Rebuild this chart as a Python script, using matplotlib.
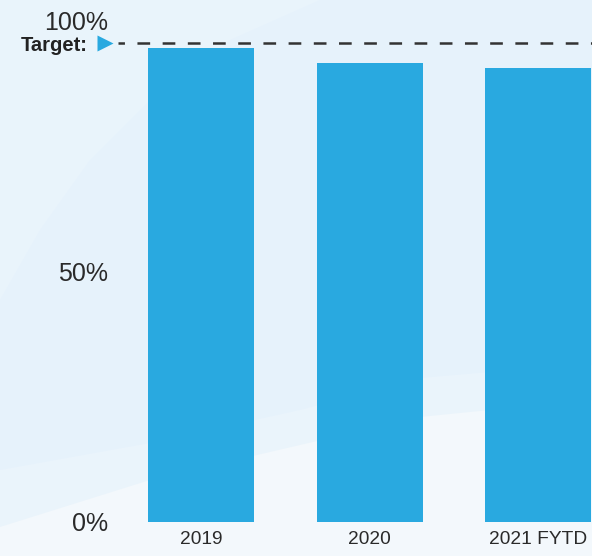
import matplotlib
matplotlib.use("Agg")
import matplotlib.pyplot as plt
import numpy as np

categories = ["2019", "2020", "2021 FYTD"]
values = [94.5, 91.5, 90.5]
target = 95.5
ytick_values = [0, 50, 100]
ytick_labels = ["0%", "50%", "100%"]

plt.rcParams['font.family'] = ['Liberation Sans', 'DejaVu Sans']
plt.rcParams['lines.scale_dashes'] = False

W, H = 592, 556
fig = plt.figure(figsize=(W / 100, H / 100), dpi=100)
fig.patch.set_facecolor('#E6F2FB')

# decorative background
bg = fig.add_axes([0, 0, 1, 1], zorder=-10)
bg.set_xlim(0, W)
bg.set_ylim(H, 0)
bg.axis('off')
xs = np.linspace(0, W, 50)
lx = np.array([0, 40, 90, 150, 230, 320, 0])
ly = np.array([300, 230, 160, 100, 40, 0, 0])
bg.fill(lx, ly, color='#E9F4FB', lw=0)
c2 = np.interp(xs, [0, 150, 300, 420, 490, 592], [470, 443, 410, 378, 372, 365])
bg.fill_between(xs, c2, H, color='#EAF4FB', lw=0)
c1 = np.interp(xs, [0, 150, 300, 420, 490, 592], [527, 480, 445, 417, 410, 400])
bg.fill_between(xs, c1, H, color='#F3F8FC', lw=0)

# main axes
y0_px, y100_px = 521.7, 20.5
left_px = 118
c0_px, step_px = 201, 168.5
ax = fig.add_axes([left_px / W, (H - y0_px) / H, (W - left_px) / W, (y0_px - y100_px) / H])
ax.patch.set_alpha(0)
ax.set_ylim(0, 100)
ax.set_xlim((left_px - c0_px) / step_px, (W - c0_px) / step_px)
x = np.arange(len(categories))
ax.bar(x, values, width=106 / step_px, color='#29A9E0', zorder=2)

for s in ax.spines.values():
    s.set_visible(False)
ax.set_xticks(x)
ax.set_xticklabels(categories, fontsize=13.8, color='#2a2a2a')
ax.set_yticks(ytick_values)
ax.set_yticklabels(ytick_labels, fontsize=18, color='#2a2a2a')
ax.tick_params(axis='x', length=0, pad=7)
ax.tick_params(axis='y', length=0, pad=7.2)

# target line
ax.plot(ax.get_xlim(), [target, target], color='#333333', lw=1.8,
        linestyle=(4.5, (9.14, 9.0)), zorder=3, solid_capstyle='butt',
        dash_capstyle='butt')
ax.plot([(104.5 - c0_px) / step_px], [target], marker='>', ms=11.5,
        color='#29A9E0', mec='none', clip_on=False, zorder=4)
ax.annotate("Target:", xy=((88 - c0_px) / step_px, target), xytext=(0, -5.9),
            textcoords='offset points', ha='right', va='baseline',
            fontsize=14.5, fontweight='bold', color='#222222',
            annotation_clip=False)

fig.savefig("out.png", dpi=100, facecolor=fig.get_facecolor())
